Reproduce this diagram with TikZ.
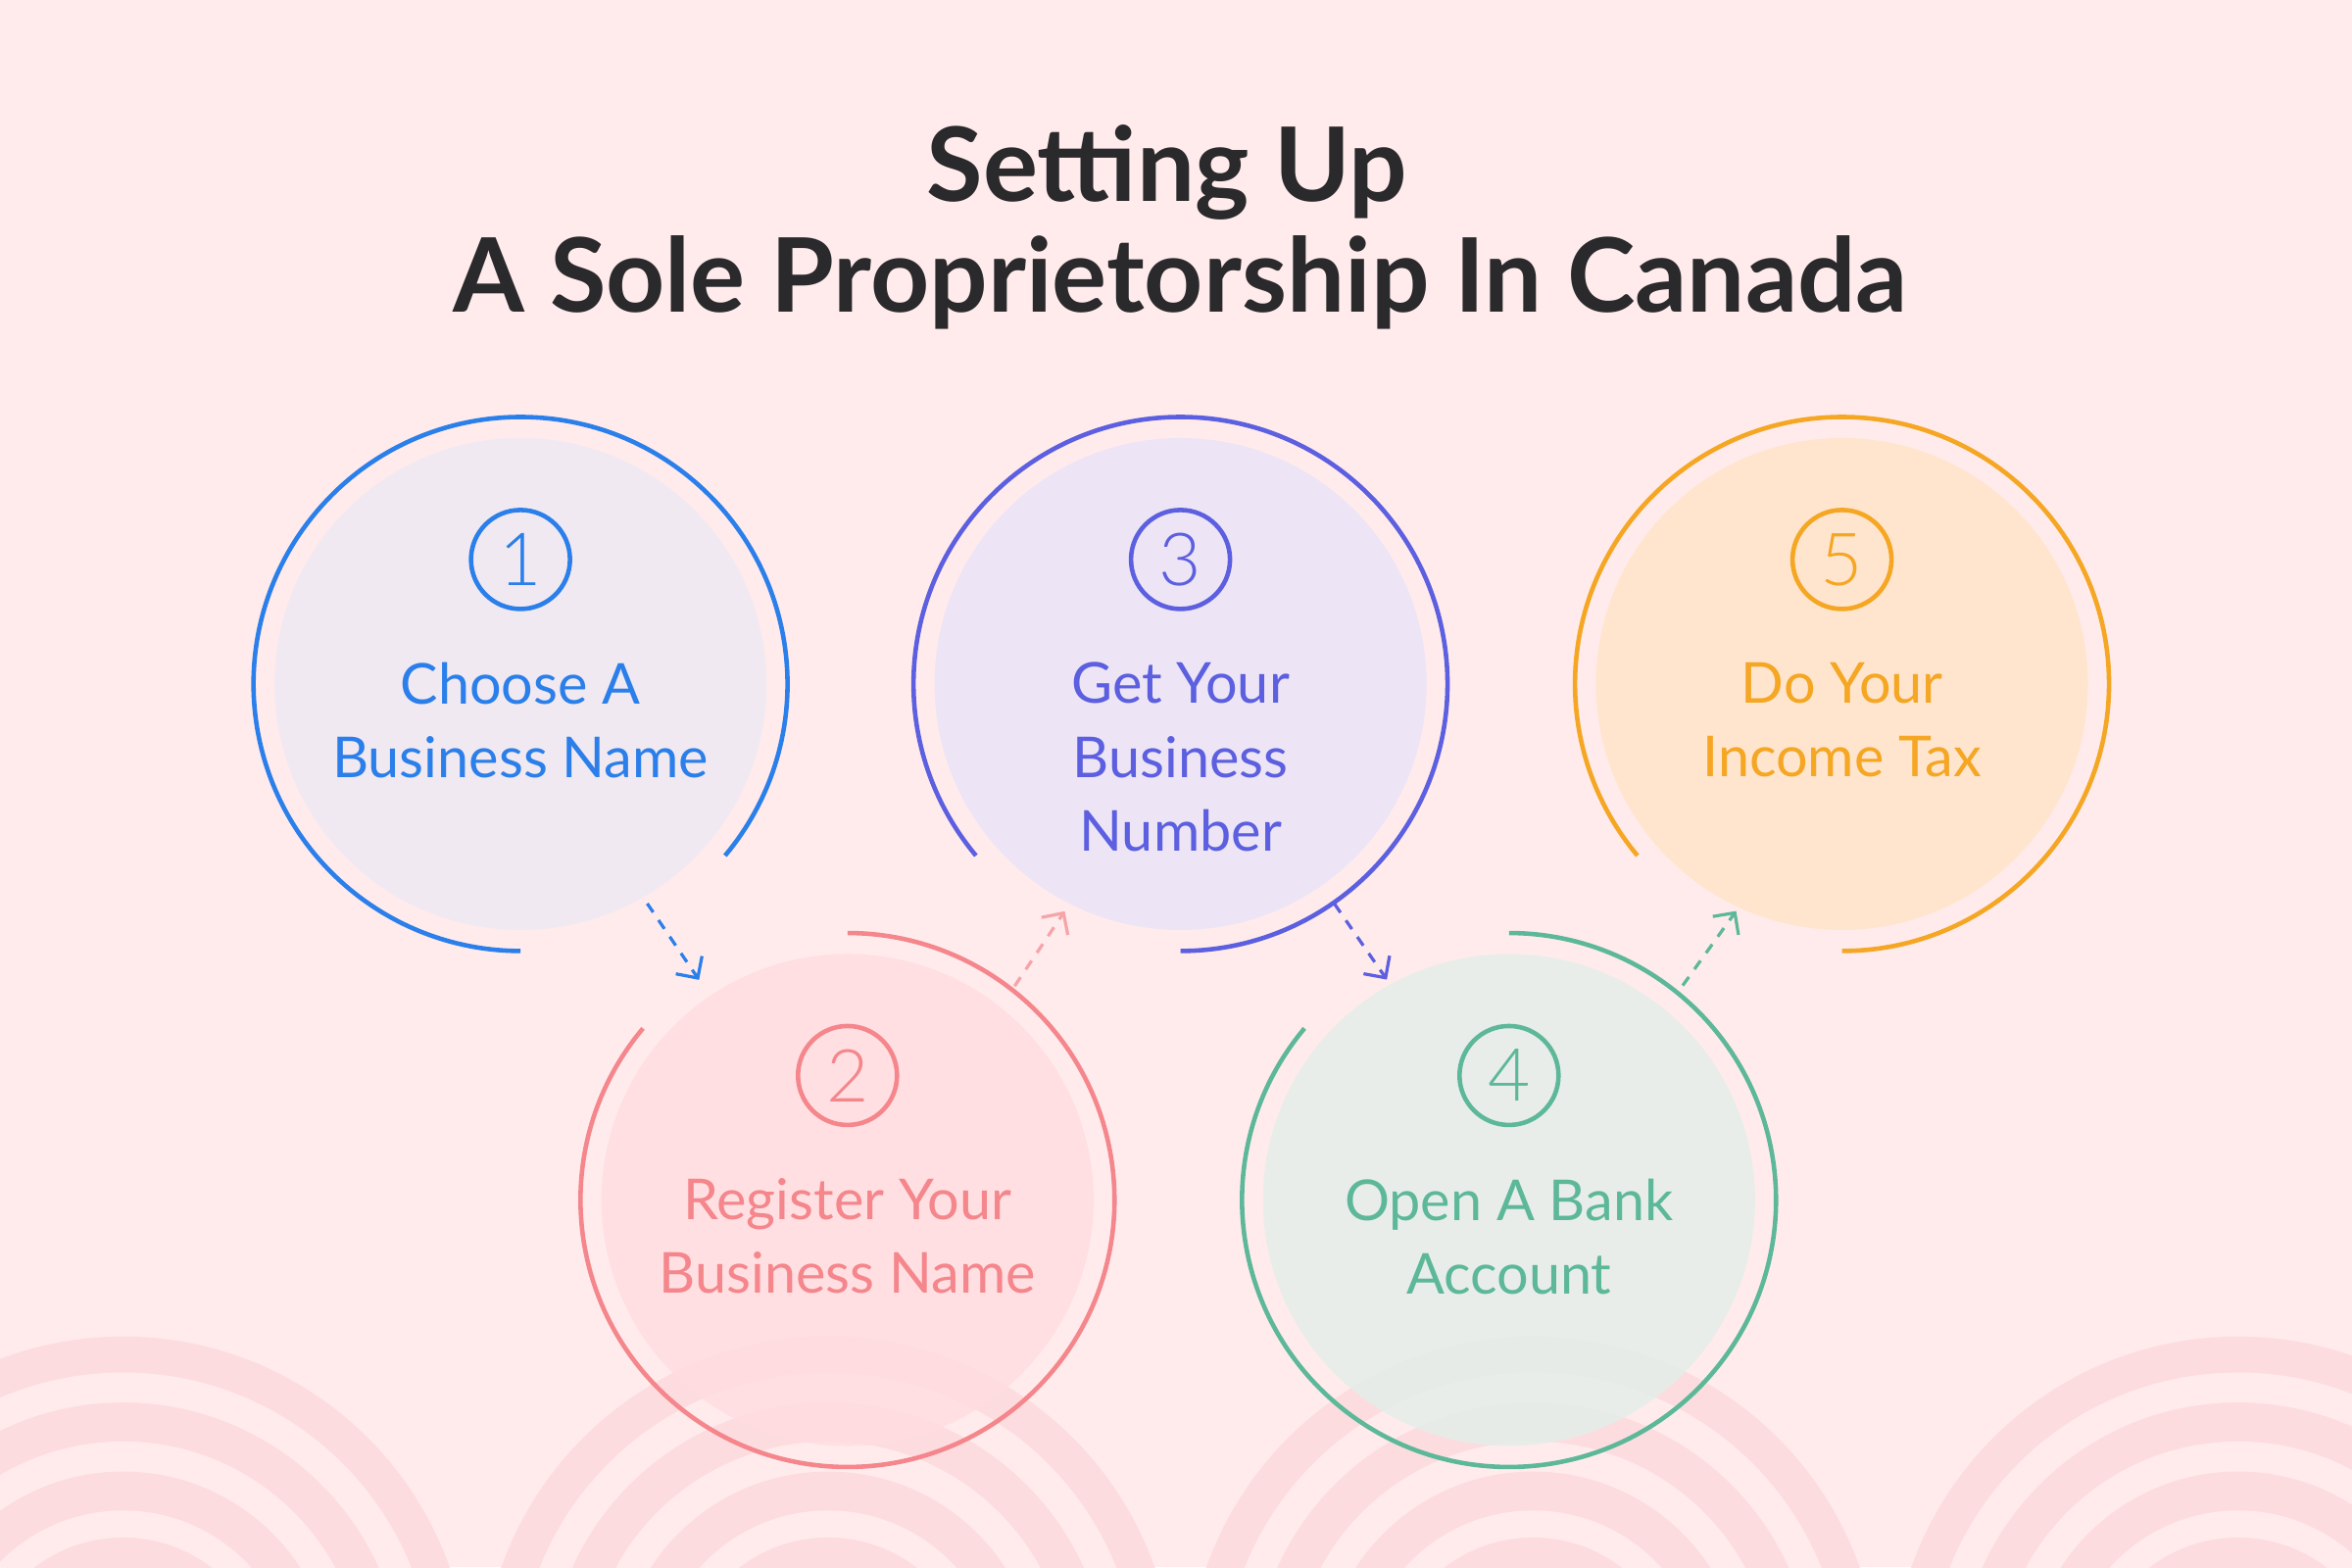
\documentclass[tikz,border=0pt]{standalone}
\usepackage{fontspec}
\setmainfont{Lato}
\IfFontExistsTF{Lato Light}{\newfontfamily\numfont{Lato Light}}{\newfontfamily\numfont{Lato}}
\usetikzlibrary{arrows.meta}

\definecolor{bgpink}{HTML}{FFEBEC}
\definecolor{ringpink}{HTML}{FDDCDF}
\definecolor{titlegray}{HTML}{2A2A2D}
\definecolor{stepblue}{HTML}{2B7FEA}
\definecolor{stepred}{HTML}{F4868C}
\definecolor{steppurple}{HTML}{5C5FE0}
\definecolor{stepgreen}{HTML}{5DB89A}
\definecolor{steporange}{HTML}{F5A623}
\definecolor{fillblue}{HTML}{EFE9F2}
\definecolor{fillred}{HTML}{FFDDE0}
\definecolor{fillpurple}{HTML}{EAE4F7}
\definecolor{fillgreen}{HTML}{E4EEE9}
\definecolor{fillorange}{HTML}{FFE4C8}

\tikzset{
  stepdisk/.style={shape=circle, minimum size=3.28cm, inner sep=0pt, fill opacity=0.85},
  stepbadge/.style={shape=circle, draw, line width=0.85pt, minimum size=0.66cm, inner sep=0pt, font=\numfont\fontsize{13.9}{15}\selectfont},
  steptext/.style={align=center, anchor=north, inner sep=0pt, font=\fontsize{10.7}{14}\selectfont},
  steprim/.style={line width=0.85pt},
  stepflow/.style={line width=0.6pt, dash pattern=on 2pt off 1.8pt, ->},
}

\begin{document}
\begin{tikzpicture}[>={Straight Barb[length=3pt,width=6pt]}]

\useasboundingbox (0,0) rectangle (15.68,10.45);
\fill[bgpink] (0,0) rectangle (15.68,10.45);

% rings at the bottom
\begin{scope}
\clip (0,0) rectangle (15.68,10.45);
\foreach \x in {0.82,5.52,10.22,14.92} {
  \fill[ringpink] (\x,-0.77) circle (2.31);
  \fill[bgpink] (\x,-0.77) circle (2.07);
  \fill[ringpink] (\x,-0.77) circle (1.87);
  \fill[bgpink] (\x,-0.77) circle (1.61);
  \fill[ringpink] (\x,-0.77) circle (1.41);
  \fill[bgpink] (\x,-0.77) circle (1.15);
  \fill[ringpink] (\x,-0.77) circle (0.97);
}
\end{scope}

\node[font=\bfseries\fontsize{19.5}{21}\selectfont, text=titlegray, anchor=base] (title1) at (7.78,9.11) {Setting Up};
\node[font=\bfseries\fontsize{19.5}{21}\selectfont, text=titlegray, anchor=base] (title2) at (7.87,8.37) {A Sole Proprietorship In Canada};

\node[stepdisk, fill=fillblue] (s1) at (3.47,5.89) {};
\node[stepdisk, fill=fillred] (s2) at (5.65,2.45) {};
\node[stepdisk, fill=fillpurple] (s3) at (7.87,5.89) {};
\node[stepdisk, fill=fillgreen] (s4) at (10.06,2.45) {};
\node[stepdisk, fill=fillorange] (s5) at (12.28,5.89) {};

\draw[steprim, stepblue] ([shift={(-40:1.78)}]s1.center) arc[start angle=-40, end angle=270, radius=1.78];
\draw[steprim, stepred] ([shift={(140:1.78)}]s2.center) arc[start angle=140, end angle=450, radius=1.78];
\draw[steprim, steppurple] ([shift={(-90:1.78)}]s3.center) arc[start angle=-90, end angle=220, radius=1.78];
\draw[steprim, stepgreen] ([shift={(140:1.78)}]s4.center) arc[start angle=140, end angle=450, radius=1.78];
\draw[steprim, steporange] ([shift={(-90:1.78)}]s5.center) arc[start angle=-90, end angle=220, radius=1.78];

\node[stepbadge, stepblue] (b1) at ([yshift=0.83cm]s1.center) {1};
\node[stepbadge, stepred] (b2) at ([yshift=0.83cm]s2.center) {2};
\node[stepbadge, steppurple] (b3) at ([yshift=0.83cm]s3.center) {3};
\node[stepbadge, stepgreen] (b4) at ([yshift=0.83cm]s4.center) {4};
\node[stepbadge, steporange] (b5) at ([yshift=0.83cm]s5.center) {5};

\node[steptext, text=stepblue] (t1) at ([yshift=0.15cm]s1.center) {Choose A\\Business Name};
\node[steptext, text=stepred] (t2) at ([yshift=0.15cm]s2.center) {Register Your\\Business Name};
\node[steptext, text=steppurple] (t3) at ([yshift=0.15cm]s3.center) {Get Your\\Business\\Number};
\node[steptext, text=stepgreen] (t4) at ([yshift=0.15cm]s4.center) {Open A Bank\\Account};
\node[steptext, text=steporange] (t5) at ([yshift=0.15cm]s5.center) {Do Your\\Income Tax};

\coordinate (f1a) at ([shift={(-60:1.69)}]s1.center);
\coordinate (f1b) at ([shift={(124:1.77)}]s2.center);
\coordinate (f2a) at ([shift={(52:1.81)}]s2.center);
\coordinate (f2b) at ([shift={(243:1.70)}]s3.center);
\coordinate (f3a) at ([shift={(-55:1.79)}]s3.center);
\coordinate (f3b) at ([shift={(119:1.68)}]s4.center);
\coordinate (f4a) at ([shift={(51:1.84)}]s4.center);
\coordinate (f4b) at ([shift={(245:1.67)}]s5.center);
\draw[stepflow, stepblue] (f1a) -- (f1b);
\draw[stepflow, stepred!75] (f2a) -- (f2b);
\draw[stepflow, steppurple] (f3a) -- (f3b);
\draw[stepflow, stepgreen] (f4a) -- (f4b);

\end{tikzpicture}
\end{document}
